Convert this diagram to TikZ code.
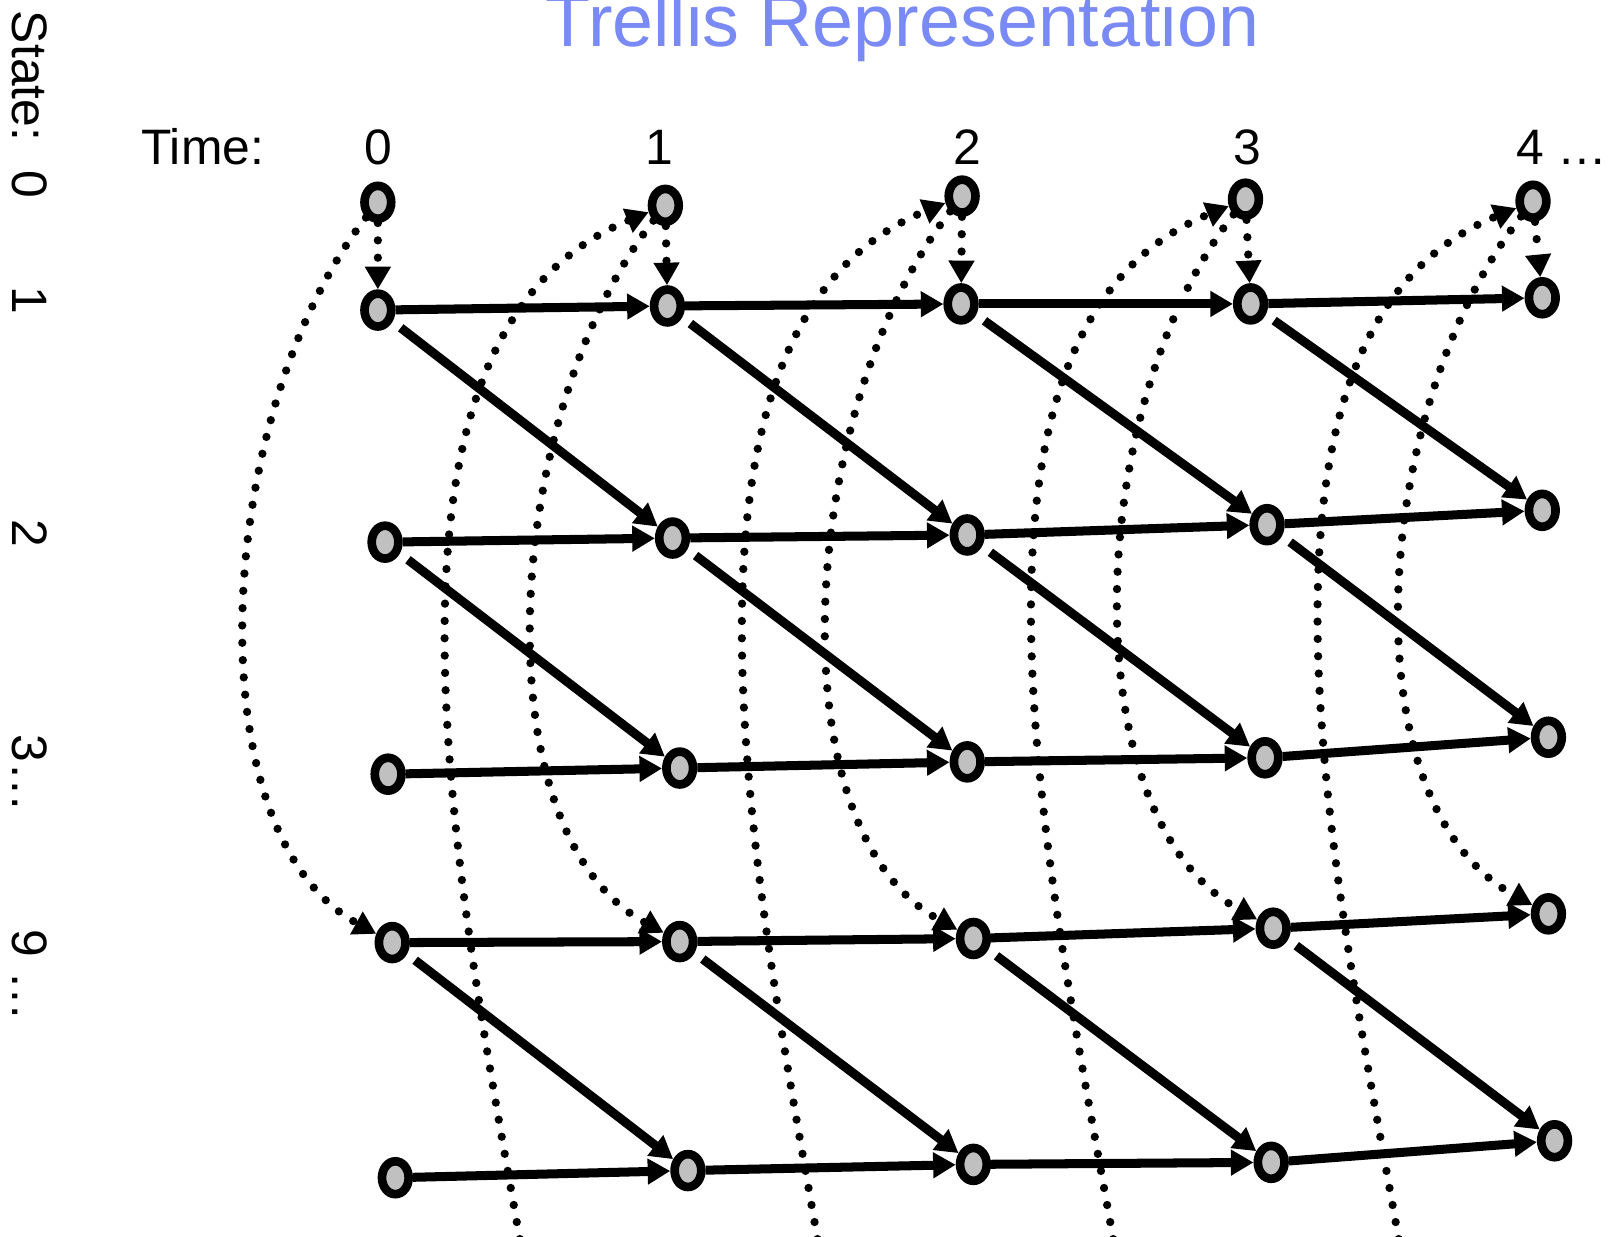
\documentclass[tikz,border=0pt]{standalone}
\usepackage{fontspec}
\setmainfont{Liberation Sans}
\usepackage{xcolor}
\usepackage{tikz}
\usetikzlibrary{arrows.meta, shapes.geometric}
\definecolor{titlecolor}{RGB}{122, 138, 245}
\definecolor{statefill}{RGB}{192, 192, 192}

\begin{document}
\begin{tikzpicture}[
    state/.style={ellipse, draw, line width=2.4pt, fill=statefill, minimum width=2.6mm, minimum height=3.2mm, inner sep=0pt},
    lbl/.style={font=\fontsize{13.8}{16}\selectfont, inner sep=0pt},
    move/.style={line width=2.5pt, -{Triangle[length=2.2mm, width=2.4mm]}},
    jump/.style={line width=2.3pt, line cap=round, dash pattern=on 0pt off 4.8pt, -{Triangle[length=2.2mm, width=2.4mm]}},
]
    \useasboundingbox (0,0) rectangle (15.68,-12.04);
    \node[font=\fontsize{20.4}{24}\selectfont, text=titlecolor, anchor=base, inner sep=0pt] (title) at (8.79,-0.45) {Trellis Representation};

    \node[lbl, anchor=base west] (time) at (1.37,-1.60) {Time:};
    \foreach \t/\x in {0/3.68, 1/6.42, 2/9.42, 3/12.15} {
        \node[lbl, anchor=base] (t\t) at (\x,-1.60) {\t};
    }
    \node[lbl, anchor=base west] (t4) at (14.76,-1.60) {4 …};
    \foreach \s/\y [count=\i] in {State:/0.10, 0/1.65, 1/2.78, 2/5.05, 3…/7.15, 9 …/9.05} {
        \node[lbl, rotate=-90, anchor=base west] (st\i) at (0.12,-\y) {\s};
    }

    \foreach \c/\x/\y in {0/3.68/1.97, 1/6.48/2.00, 2/9.37/1.91, 3/12.13/1.94, 4/14.93/1.96}
        \node[state] (r0-\c) at (\x,-\y) {};
    \foreach \c/\x/\y in {0/3.68/3.02, 1/6.50/2.98, 2/9.36/2.96, 3/12.18/2.96, 4/15.02/2.90}
        \node[state] (r1-\c) at (\x,-\y) {};
    \foreach \c/\x/\y in {0/3.75/5.28, 1/6.55/5.24, 2/9.42/5.21, 3/12.34/5.11, 4/15.02/4.97}
        \node[state] (r2-\c) at (\x,-\y) {};
    \foreach \c/\x/\y in {0/3.78/7.54, 1/6.62/7.48, 2/9.42/7.42, 3/12.32/7.38, 4/15.08/7.18}
        \node[state] (r3-\c) at (\x,-\y) {};
    \foreach \c/\x/\y in {0/3.82/9.18, 1/6.62/9.17, 2/9.48/9.14, 3/12.40/9.04, 4/15.08/8.90}
        \node[state] (r4-\c) at (\x,-\y) {};
    \foreach \c/\x/\y in {0/3.85/11.47, 1/6.70/11.40, 2/9.48/11.34, 3/12.38/11.32, 4/15.14/11.11}
        \node[state] (r5-\c) at (\x,-\y) {};

    \foreach \r in {1,...,5}
        \foreach \c [count=\n from 1] in {0,...,3}
            \draw[move] (r\r-\c) -- (r\r-\n);
    \foreach \r/\q in {1/2, 2/3, 4/5}
        \foreach \c [count=\n from 1] in {0,...,3}
            \draw[move, shorten <=1mm] (r\r-\c) -- (r\q-\n);

    \foreach \c in {0,...,4} {
        \draw[jump] (r0-\c) -- (r1-\c);
        \draw[jump] (r0-\c) .. controls +(-1.58,-2.03) and +(-1.97,1.08) .. (r4-\c);
    }
    \foreach \c/\x in {1/5.12, 2/8.02, 3/10.90, 4/13.68} {
        \coordinate (low\c) at (\x,-12.40);
        \draw[jump] (low\c) .. controls +(-0.62,3.6) and +(-3.18,-1.30) .. (r0-\c);
    }
\end{tikzpicture}
\end{document}
